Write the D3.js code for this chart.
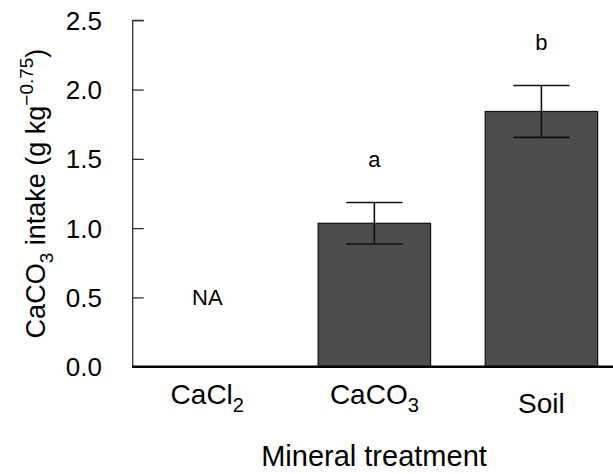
<!DOCTYPE html>
<html>
<head>
<meta charset="utf-8">
<script src="https://cdn.jsdelivr.net/npm/d3@7"></script>
<style>
  body { margin: 0; background: #fff; }
  svg { display: block; font-family: "Liberation Sans", Arial, sans-serif; }
</style>
</head>
<body>
<svg id="chart" width="613" height="474"></svg>
<script>
// treatments, means and standard errors
const treatments = ['CaCl2', 'CaCO3', 'Soil'];
const treatmentLabels = [['CaCl', '2'], ['CaCO', '3'], ['Soil', '']];
const means = [null, 1.035, 1.842];
const errors = [null, 0.15, 0.187];
const letters = ['NA', 'a', 'b'];
const yTicks = [0, 0.5, 1, 1.5, 2, 2.5];

const svg = d3.select('#chart');
const plotLeft = 132.7, plotRight = 616, plotTop = 20.3, plotBottom = 366.7;

const x = d3.scaleBand()
    .domain(treatments)
    .range([plotLeft, plotRight])
    .paddingInner(0.327)
    .paddingOuter(0.11);

const y = d3.scaleLinear()
    .domain([0, 2.5])
    .range([plotBottom, plotTop]);

const rows = treatments.map((t, i) => ({
    t: t, mean: means[i], se: errors[i], letter: letters[i], label: treatmentLabels[i]
}));

// y axis: inward ticks, labels on the left
const yAxis = svg.append('g')
    .attr('transform', `translate(${plotLeft},0)`)
    .call(d3.axisRight(y).tickValues(yTicks).tickSize(11).tickFormat(''));
yAxis.select('.domain').attr('d', `M11,${plotTop}H0V${plotBottom}`).attr('stroke', '#333').attr('stroke-width', 1.3);
yAxis.selectAll('.tick line').attr('stroke', '#333').attr('stroke-width', 1.3);

svg.append('g').selectAll('text')
    .data(yTicks)
    .join('text')
    .attr('x', 102)
    .attr('y', d => y(d))
    .attr('dy', '0.36em')
    .attr('text-anchor', 'end')
    .attr('font-size', 26)
    .text(d3.format('.1f'));

// bars
const withData = rows.filter(d => d.mean !== null);
svg.append('g').selectAll('rect')
    .data(withData)
    .join('rect')
    .attr('x', d => x(d.t))
    .attr('width', x.bandwidth())
    .attr('y', d => y(d.mean))
    .attr('height', d => y(0) - y(d.mean))
    .attr('fill', '#4d4d4d')
    .attr('stroke', '#111')
    .attr('stroke-width', 1.2);

// error bars
const capW = x.bandwidth() / 2;
const eb = svg.append('g').attr('stroke', '#111').attr('stroke-width', 1.6);
withData.forEach(d => {
    const cx = x(d.t) + x.bandwidth() / 2;
    eb.append('line').attr('x1', cx).attr('x2', cx)
        .attr('y1', y(d.mean - d.se)).attr('y2', y(d.mean + d.se));
    [d.mean - d.se, d.mean + d.se].forEach(v => {
        eb.append('line').attr('x1', cx - capW / 2).attr('x2', cx + capW / 2)
            .attr('y1', y(v)).attr('y2', y(v));
    });
});

// significance letters / NA
svg.append('g').selectAll('text')
    .data(rows)
    .join('text')
    .attr('x', d => x(d.t) + x.bandwidth() / 2)
    .attr('y', d => d.mean === null ? y(0.5) : y(d.mean + d.se) - 43)
    .attr('dy', '0.36em')
    .attr('text-anchor', 'middle')
    .attr('font-size', 22)
    .text(d => d.letter);

// baseline
svg.append('line')
    .attr('x1', plotLeft - 0.5).attr('x2', 613)
    .attr('y1', plotBottom).attr('y2', plotBottom)
    .attr('stroke', '#000').attr('stroke-width', 2.6);

// x tick labels with subscripts
const xl = svg.append('g').selectAll('text')
    .data(rows)
    .join('text')
    .attr('x', d => x(d.t) + x.bandwidth() / 2)
    .attr('y', d => d.label[1] ? 404 : 413)
    .attr('text-anchor', 'middle')
    .attr('font-size', 28);
xl.append('tspan').text(d => d.label[0]);
xl.append('tspan')
    .attr('font-size', 20)
    .attr('dy', d => d.label[1] ? 8 : 0)
    .text(d => d.label[1]);

// axis titles
svg.append('text')
    .attr('x', 374).attr('y', 466)
    .attr('text-anchor', 'middle')
    .attr('font-size', 29)
    .text('Mineral treatment');

const yt = svg.append('text')
    .attr('transform', 'translate(45,193.5) rotate(-90)')
    .attr('text-anchor', 'middle')
    .attr('font-size', 27);
yt.append('tspan').text('CaCO');
yt.append('tspan').attr('font-size', 19).attr('dy', 8).text('3');
yt.append('tspan').attr('dy', -8).text(' intake (g kg');
yt.append('tspan').attr('font-size', 19).attr('dy', -12).text('\u22120.75');
yt.append('tspan').attr('dy', 12).text(')');
</script>
</body>
</html>
